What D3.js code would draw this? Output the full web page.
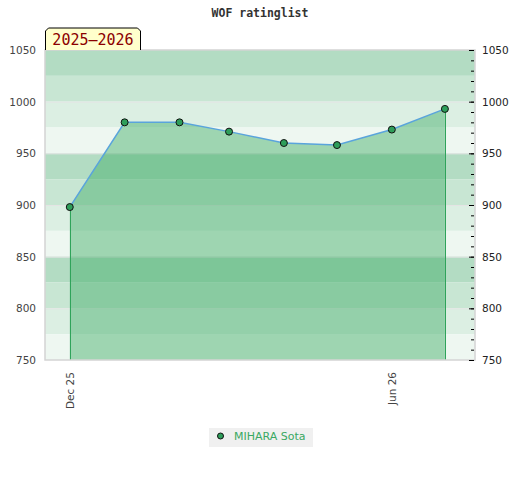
<!DOCTYPE html>
<html lang="en">
  <head>
    <meta charset="UTF-8" />
    <script src="https://d3js.org/d3.v7.min.js"></script>
    <title>WOF ratinglist</title>
    <style>
      body {
        margin: 0;
        background: #fff;
      }
      .axis text {
        font-family: 'DejaVu Sans', sans-serif;
        font-size: 10.5px;
      }
    </style>
  </head>
  <body>
    <script>
      // rating at the start of each month
      const months = ['2025-12-01', '2026-01-01', '2026-02-01', '2026-03-01', '2026-04-01', '2026-05-01', '2026-06-01', '2026-07-01']
      const ratings = [898, 980, 980, 971, 960, 958, 973, 993]
      const xTickDates = ['2025-12-01', '2026-06-01']
      const yTicks = [750, 800, 850, 900, 950, 1000, 1050]
      const bandColors = ['#b3dcc3', '#c8e6d3', '#dcefe3', '#eef7f1']
      const player = 'MIHARA Sota'
      const season = '2025–2026'

      const width = 520
      const height = 480
      const plotLeft = 45, plotRight = 475, plotTop = 50, plotBottom = 360

      const parse = d3.timeParse('%Y-%m-%d')
      const data = months.map((m, i) => ({ date: parse(m), rating: ratings[i] }))

      const svg = d3.select('body')
        .append('svg')
        .attr('width', width)
        .attr('height', height)

      const x = d3.scaleTime()
        .domain([parse('2025-11-17'), parse('2026-07-18')])
        .range([plotLeft, plotRight])

      const y = d3.scaleLinear()
        .domain([750, 1050])
        .range([plotBottom, plotTop])

      // background bands, 25 points each, darkest at the top
      const bandEdges = d3.range(1050, 750, -25)
      svg.append('g')
        .selectAll('rect')
        .data(bandEdges)
        .join('rect')
        .attr('x', plotLeft)
        .attr('width', plotRight - plotLeft)
        .attr('y', d => y(d))
        .attr('height', d => y(d - 25) - y(d))
        .attr('fill', (d, i) => bandColors[i % 4])

      // thin lines on the labelled values
      svg.append('g')
        .selectAll('line')
        .data(yTicks.slice(1, -1))
        .join('line')
        .attr('x1', plotLeft)
        .attr('x2', plotRight)
        .attr('y1', d => y(d) + 0.5)
        .attr('y2', d => y(d) + 0.5)
        .attr('stroke', '#e4e4e4')

      const area = d3.area()
        .x(d => x(d.date))
        .y0(plotBottom)
        .y1(d => y(d.rating))

      svg.append('path')
        .datum(data)
        .attr('d', area)
        .attr('fill', '#3cab64')
        .attr('fill-opacity', 0.45)

      // edges of the filled area
      svg.append('g')
        .selectAll('line')
        .data([data[0], data[data.length - 1]])
        .join('line')
        .attr('x1', d => Math.round(x(d.date)) + 0.5)
        .attr('x2', d => Math.round(x(d.date)) + 0.5)
        .attr('y1', d => y(d.rating))
        .attr('y2', plotBottom)
        .attr('stroke', '#2fa35a')
        .attr('stroke-width', 1)

      svg.append('path')
        .datum(data)
        .attr('d', d3.line().x(d => x(d.date)).y(d => y(d.rating)))
        .attr('fill', 'none')
        .attr('stroke', '#5aa4dc')
        .attr('stroke-width', 1.5)

      svg.append('g')
        .selectAll('circle')
        .data(data)
        .join('circle')
        .attr('cx', d => x(d.date))
        .attr('cy', d => y(d.rating))
        .attr('r', 3.5)
        .attr('fill', '#2e9e5a')
        .attr('stroke', '#111')
        .attr('stroke-width', 1)

      // plot frame
      svg.append('rect')
        .attr('x', plotLeft)
        .attr('y', plotTop)
        .attr('width', plotRight - plotLeft)
        .attr('height', plotBottom - plotTop)
        .attr('fill', 'none')
        .attr('stroke', '#d4d4d4')
        .attr('stroke-width', 1.5)

      const leftAxis = svg.append('g')
        .attr('class', 'axis')
        .attr('transform', `translate(${plotLeft},0)`)
        .call(d3.axisLeft(y).tickValues(yTicks).tickSize(0).tickPadding(9).tickFormat(d3.format('d')))
      leftAxis.select('.domain').remove()
      leftAxis.selectAll('text').attr('fill', '#444')

      const minorAxis = svg.append('g')
        .attr('class', 'axis')
        .attr('transform', `translate(${plotRight - 1},0)`)
        .call(d3.axisRight(y).tickValues(d3.range(760, 1050, 10)).tickSize(-3).tickFormat(''))
      minorAxis.select('.domain').remove()

      const rightAxis = svg.append('g')
        .attr('class', 'axis')
        .attr('transform', `translate(${plotRight - 1},0)`)
        .call(d3.axisRight(y).tickValues(yTicks).tickSize(-5).tickPadding(8).tickFormat(d3.format('d')))
      rightAxis.select('.domain').remove()
      rightAxis.selectAll('text').attr('fill', '#222')

      const xAxis = svg.append('g')
        .attr('class', 'axis')
        .attr('transform', `translate(0,${plotBottom})`)
        .call(d3.axisBottom(x).tickValues(xTickDates.map(parse)).tickSize(0).tickFormat(d3.timeFormat('%b %y')))
      xAxis.select('.domain').remove()
      xAxis.selectAll('text')
        .attr('fill', '#444')
        .attr('transform', 'rotate(-90)')
        .attr('text-anchor', 'end')
        .attr('x', -12)
        .attr('y', 0)
        .attr('dy', '0.35em')

      svg.append('text')
        .attr('x', width / 2)
        .attr('y', 17)
        .attr('text-anchor', 'middle')
        .style('font-family', "'DejaVu Sans Mono', monospace")
        .style('font-weight', 'bold')
        .style('font-size', '11.5px')
        .attr('fill', '#333')
        .text('WOF ratinglist')

      // season tag
      svg.append('path')
        .attr('d', 'M45.5,50 L45.5,31 L48.5,28 L137.5,28 L140.5,31 L140.5,50')
        .attr('fill', '#ffffcc')
        .attr('stroke', '#000')
        .attr('stroke-width', 1)
      svg.append('text')
        .attr('x', 93)
        .attr('y', 45)
        .attr('text-anchor', 'middle')
        .style('font-family', "'DejaVu Sans Mono', monospace")
        .style('font-size', '15px')
        .attr('fill', '#8b0000')
        .text(season)

      // legend
      const legend = svg.append('g')
      legend.append('rect')
        .attr('x', 209)
        .attr('y', 428)
        .attr('width', 104)
        .attr('height', 19)
        .attr('fill', '#f0f0f0')
      legend.append('circle')
        .attr('cx', 220.5)
        .attr('cy', 436)
        .attr('r', 3)
        .attr('fill', '#2e9e5a')
        .attr('stroke', '#111')
      legend.append('text')
        .attr('x', 234)
        .attr('y', 440)
        .style('font-family', "'DejaVu Sans', sans-serif")
        .style('font-size', '11px')
        .attr('fill', '#3aa862')
        .text(player)
    </script>
  </body>
</html>
